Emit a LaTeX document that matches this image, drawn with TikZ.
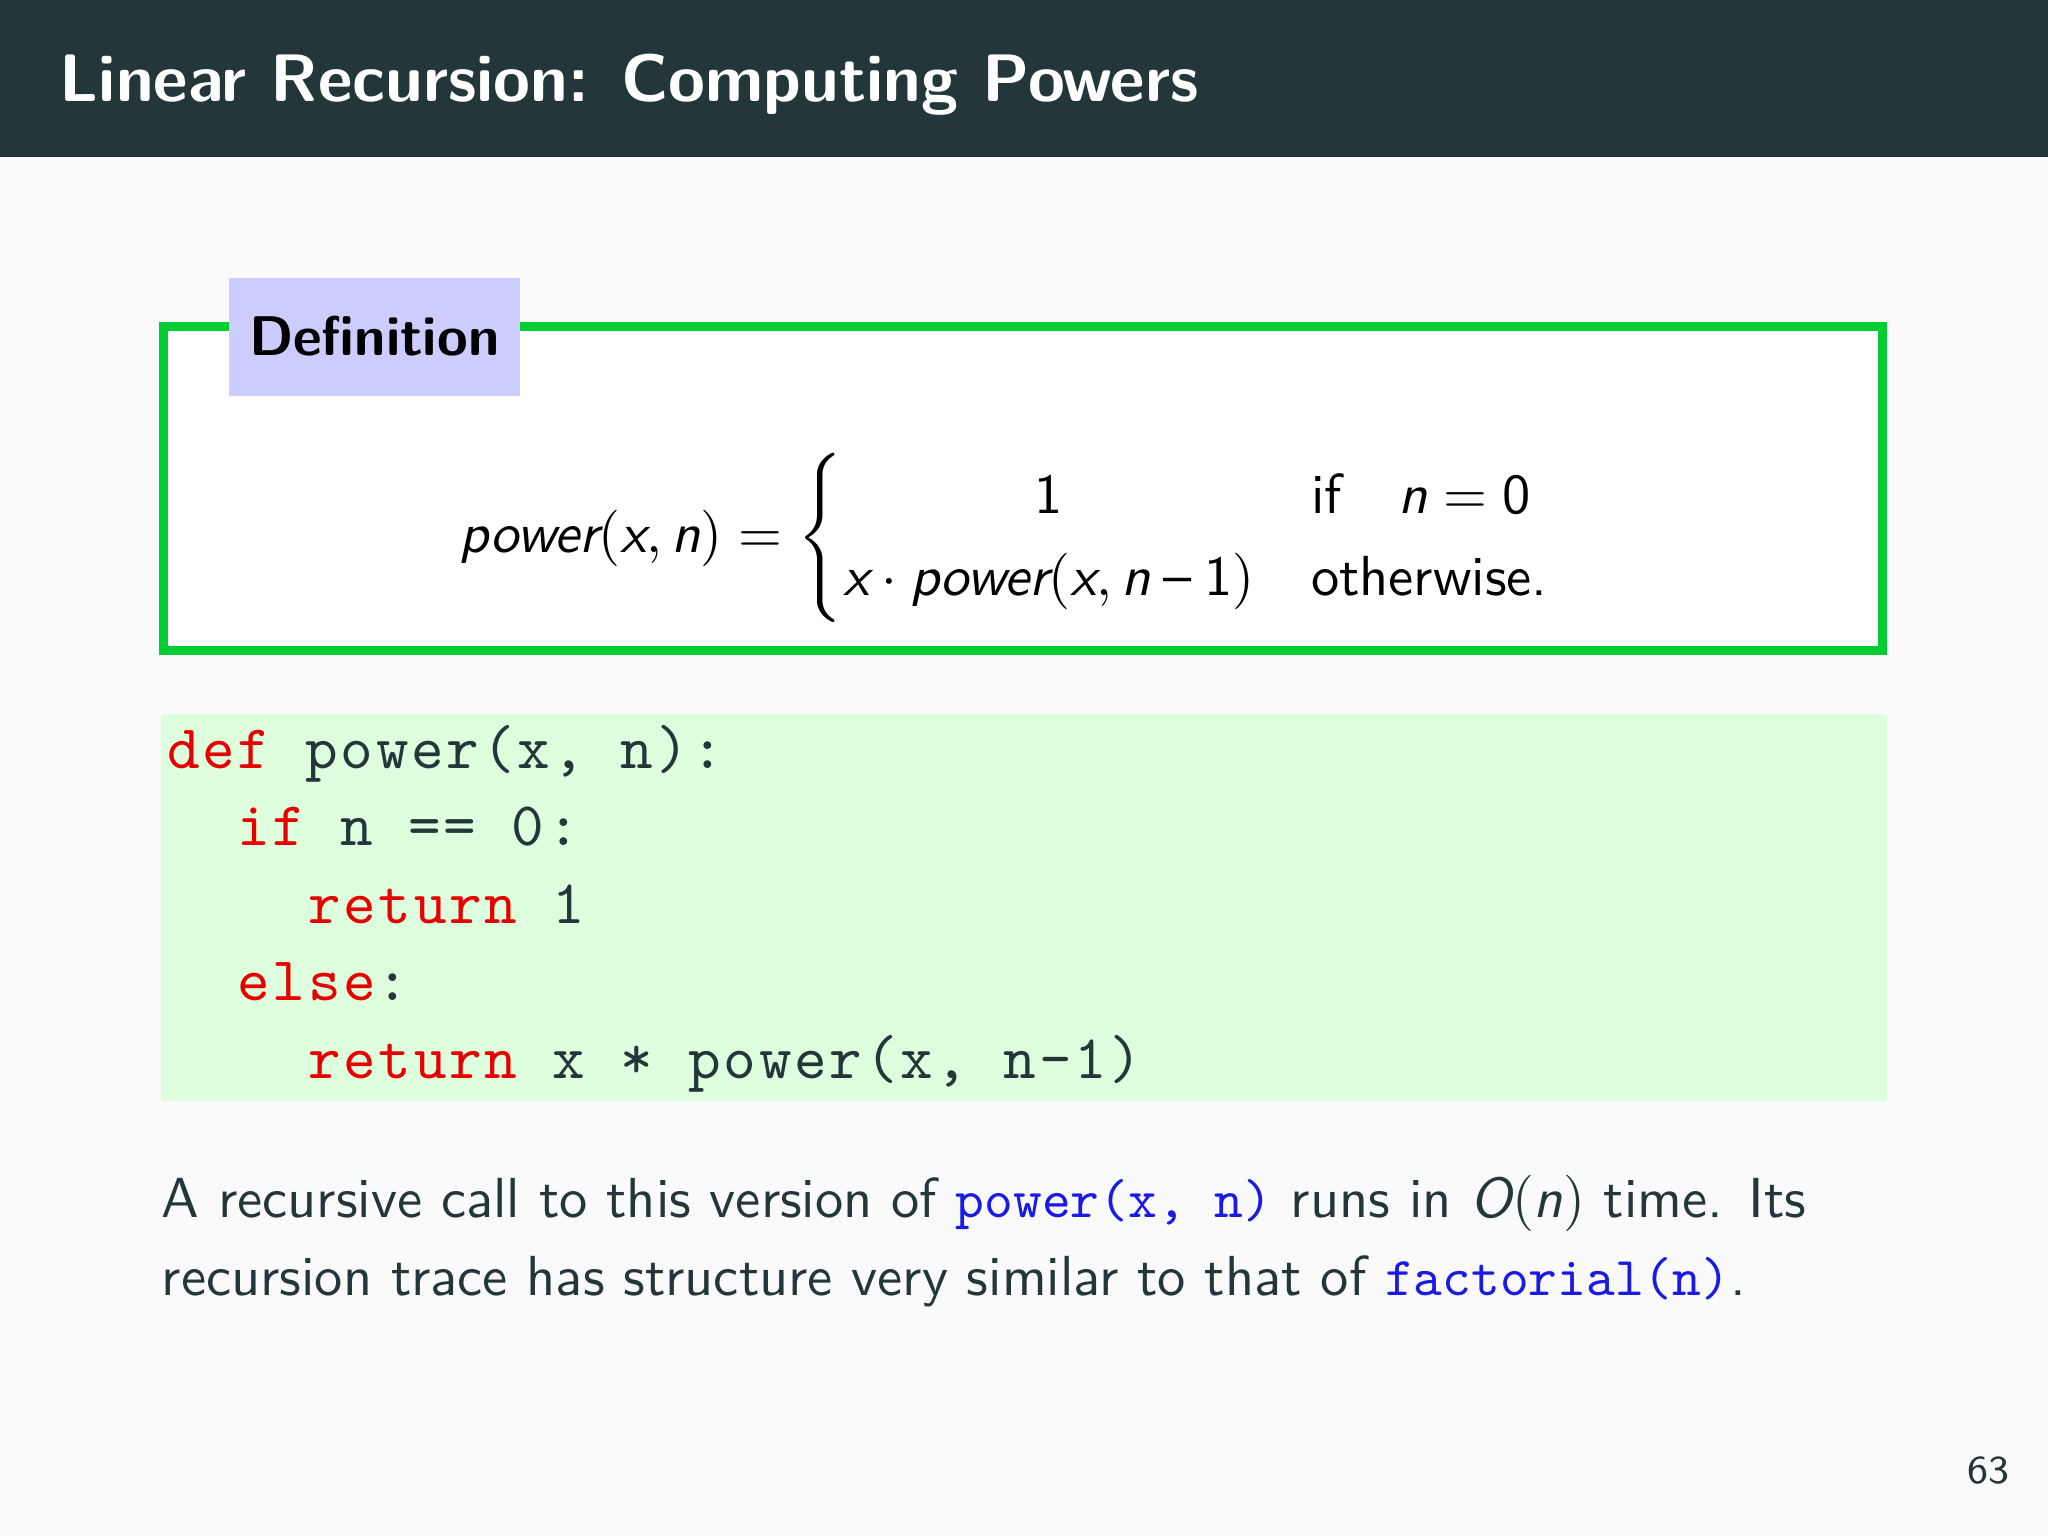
\documentclass[tikz,border=0pt]{standalone}
\usepackage{amsmath}
\usepackage{fontspec}
\definecolor{bar}{HTML}{23373B}
\definecolor{bg}{HTML}{FAFAFA}
\definecolor{frame}{HTML}{00CC33}
\definecolor{tab}{HTML}{CCCCFF}
\definecolor{codebg}{HTML}{DDFFDD}
\definecolor{kw}{HTML}{E60000}
\definecolor{blu}{HTML}{1A1AE6}
\newfontfamily\codefont[LetterSpace=4.4]{lmmono10-regular.otf}
\newcommand{\sv}[1]{\text{\sffamily\itshape #1}}
\newcommand{\sn}[1]{\text{\sffamily #1}}
\begin{document}
\begin{tikzpicture}[x=0.2314pt,y=-0.2314pt,
  codeline/.style={anchor=base west,inner sep=0,font=\fontsize{11}{13}\codefont,text=bar},
  para/.style={anchor=base west,inner sep=0,font=\fontsize{10}{12}\sffamily,text=bar}]
\fill[bg] (0,0) rectangle (1568,1176);
\useasboundingbox (0,0) rectangle (1568,1176);
\fill[bar] (0,0) rectangle (1568,120);
\node[anchor=base west,inner sep=0,text=white,font=\fontsize{11.9}{14}\sffamily\bfseries] (title) at (45,78) {Linear Recursion: Computing Powers};
\draw[frame,line width=1.6pt,fill=white] (125,250) rectangle (1441,498);
\fill[tab] (175,213) rectangle (398,303);
\node[inner sep=0,font=\fontsize{9.9}{12}\sffamily\bfseries,text=black] (deftitle) at (286.5,257) {Definition};
\node[inner sep=0,font=\fontsize{10}{12}\sffamily,text=black] (formula) at (771,412) {$\sv{power}(\sv{x},\sv{n}) \mathrel{\sn{=}} \begin{cases} \hfil \sn{1} & \sn{if}\quad \sv{n}\mathrel{\sn{=}}\sn{0}\\ \sv{x}\cdot \sv{power}(\sv{x},\sv{n}\mathbin{\sn{--}}\sn{1}) & \sn{otherwise.}\end{cases}$};
\fill[codebg] (123,547) rectangle (1445,843);
\node[codeline] (c1) at (127,588) {\textcolor{kw}{def} power(x, n):};
\node[codeline] (c2) at (181,647) {\textcolor{kw}{if} n == 0:};
\node[codeline] (c3) at (235,707) {\textcolor{kw}{return} 1};
\node[codeline] (c4) at (181,766) {\textcolor{kw}{else}:};
\node[codeline] (c5) at (235,826) {\textcolor{kw}{return} x * power(x, n-1)};
\node[para] (p1) at (123,932) {A recursive call to this version of \textcolor{blu}{\fontsize{9.7}{12}\ttfamily power(x, n)} runs in $\sv{O}(\sv{n})$ time. Its};
\node[para] (p2) at (123,992) {recursion trace has structure very similar to that of \textcolor{blu}{\fontsize{9.7}{12}\ttfamily factorial(n)}.};
\node[anchor=base east,inner sep=0,font=\fontsize{7}{8}\sffamily,text=bar] (pg) at (1539,1136) {63};
\end{tikzpicture}
\end{document}
